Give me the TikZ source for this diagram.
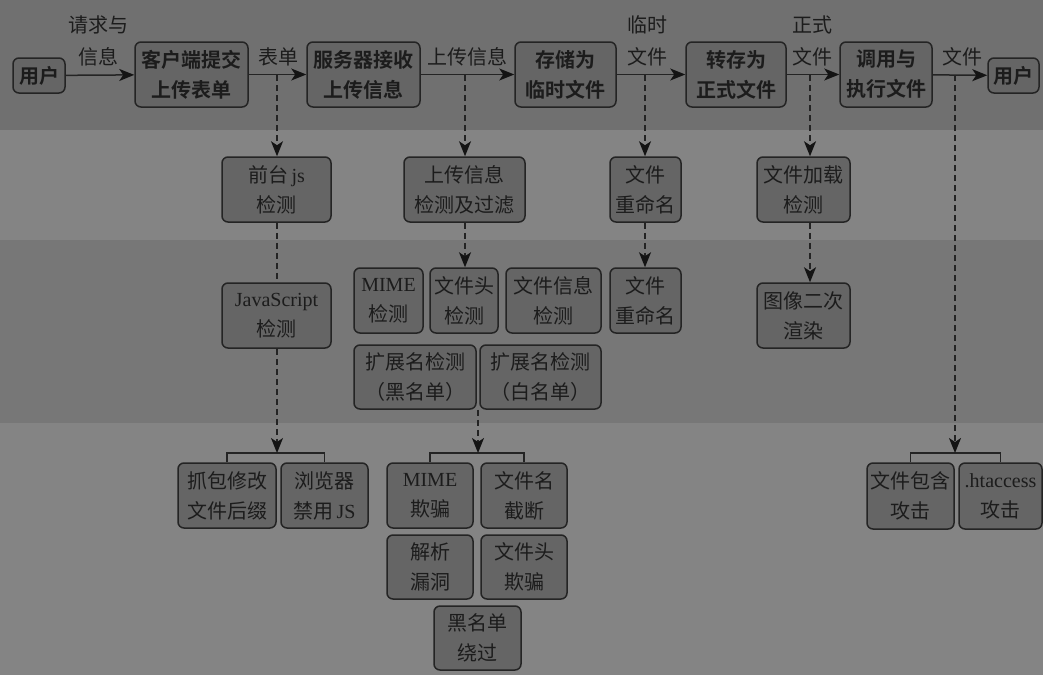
\documentclass[tikz,border=0pt]{standalone}
\usepackage{fontspec}
\setmainfont{Liberation Serif}
\newfontfamily\cjk{Noto Sans CJK SC}[BoldFont={Noto Sans CJK SC Bold}]
\newfontfamily\lat{Liberation Serif}
\usetikzlibrary{arrows.meta,calc}

\definecolor{bandA}{RGB}{112,112,112}
\definecolor{bandB}{RGB}{132,132,132}
\definecolor{bandC}{RGB}{119,119,119}
\definecolor{boxfill}{RGB}{101,101,101}
\definecolor{boxline}{RGB}{36,36,36}
\definecolor{ink}{RGB}{28,28,28}
\definecolor{tip}{RGB}{20,20,20}

\begin{document}
\begin{tikzpicture}[x=1pt,y=-1pt,
  box/.style={draw=boxline, fill=boxfill, line width=1.5pt, rounded corners=6pt,
    inner sep=0pt, align=center, text=ink, font=\cjk\fontsize{20}{30}\selectfont},
  mainbox/.style={box, font=\cjk\bfseries\fontsize{20}{30}\selectfont},
  lbl/.style={align=center, text=ink, inner sep=0pt, font=\cjk\fontsize{20}{32}\selectfont},
  tiphead/.style={-{Stealth[length=15pt,width=12pt,inset=4pt,color=tip]}},
  flow/.style={line width=1.5pt, draw=boxline, tiphead},
  probe/.style={line width=1.5pt, draw=boxline, dash pattern=on 6pt off 4pt},
  probearrow/.style={probe, tiphead},
  bracket/.style={line width=1.5pt, draw=boxline}]

\useasboundingbox (0,0) rectangle (1043,675);

% background bands
\fill[bandA] (0,0) rectangle (1043,130);
\fill[bandB] (0,130) rectangle (1043,240);
\fill[bandC] (0,240) rectangle (1043,423);
\fill[bandB] (0,423) rectangle (1043,675);

% main upload flow
\node[mainbox, minimum width=52pt, minimum height=35pt] (u1) at (39,75.5) {用户};
\node[mainbox, minimum width=113pt, minimum height=65pt] (n1) at (191.5,74.5) {客户端提交\\上传表单};
\node[mainbox, minimum width=113pt, minimum height=65pt] (n2) at (363.5,74.5) {服务器接收\\上传信息};
\node[mainbox, minimum width=101pt, minimum height=65pt] (n3) at (565.5,74.5) {存储为\\临时文件};
\node[mainbox, minimum width=100pt, minimum height=65pt] (n4) at (736,74.5) {转存为\\正式文件};
\node[mainbox, minimum width=92pt, minimum height=65pt] (n5) at (886,74.5) {调用与\\执行文件};
\node[mainbox, minimum width=51pt, minimum height=35pt] (u2) at (1013.5,75.5) {用户};

\draw[flow] (u1) -- (n1);
\draw[flow] (n1) -- (n2);
\draw[flow] (n2) -- (n3);
\draw[flow] (n3) -- (n4);
\draw[flow] (n4) -- (n5);
\draw[flow] (n5) -- (u2);

% flow labels
\node[lbl] (l1) at (98,41) {请求与\\信息};
\node[lbl] (l2) at (278,57) {表单};
\node[lbl] (l3) at (467,57) {上传信息};
\node[lbl] (l4) at (647,41) {临时\\文件};
\node[lbl] (l5) at (812,41) {正式\\文件};
\node[lbl] (l6) at (962,57) {文件};

% taps on the flow arrows
\coordinate (t1) at (277,75);
\coordinate (t2) at (465,75);
\coordinate (t3) at (645,75);
\coordinate (t4) at (810,75);
\coordinate (t5) at (955,75);

% checks
\node[box, minimum width=109pt, minimum height=65pt] (a1) at (276.5,189.5) {前台\,{\lat js}\\检测};
\node[box, minimum width=121pt, minimum height=65pt] (a2) at (464.5,189.5) {上传信息\\检测及过滤};
\node[box, minimum width=71pt, minimum height=65pt] (a3) at (645.5,189.5) {文件\\重命名};
\node[box, minimum width=93pt, minimum height=65pt] (a4) at (803.5,189.5) {文件加载\\检测};

\node[box, minimum width=109pt, minimum height=65pt] (b1) at (276.5,315.5) {{\lat JavaScript}\\检测};
\node[box, minimum width=69pt, minimum height=65pt] (b2) at (388.5,300.5) {{\lat MIME}\\检测};
\node[box, minimum width=68pt, minimum height=65pt] (b3) at (464,300.5) {文件头\\检测};
\node[box, minimum width=95pt, minimum height=65pt] (b4) at (553.5,300.5) {文件信息\\检测};
\node[box, minimum width=122pt, minimum height=64pt] (b5) at (415,377) {扩展名检测\\（黑名单）};
\node[box, minimum width=121pt, minimum height=64pt] (b6) at (540.5,377) {扩展名检测\\（白名单）};
\node[box, minimum width=71pt, minimum height=65pt] (b7) at (645.5,300.5) {文件\\重命名};
\node[box, minimum width=93pt, minimum height=65pt] (b8) at (803.5,315.5) {图像二次\\渲染};

% bypasses
\node[box, minimum width=98pt, minimum height=65pt] (c1) at (227,495.5) {抓包修改\\文件后缀};
\node[box, minimum width=87pt, minimum height=65pt] (c2) at (324.5,495.5) {浏览器\\禁用\,{\lat JS}};
\node[box, minimum width=86pt, minimum height=65pt] (c3) at (430,495.5) {{\lat MIME}\\欺骗};
\node[box, minimum width=86pt, minimum height=65pt] (c4) at (524,495.5) {文件名\\截断};
\node[box, minimum width=86pt, minimum height=64pt] (c5) at (430,567) {解析\\漏洞};
\node[box, minimum width=86pt, minimum height=64pt] (c6) at (524,567) {文件头\\欺骗};
\node[box, minimum width=87pt, minimum height=64pt] (c7) at (477.5,638) {黑名单\\绕过};
\node[box, minimum width=87pt, minimum height=66pt] (c8) at (910.5,496) {文件包含\\攻击};
\node[box, minimum width=83pt, minimum height=66pt] (c9) at (1000.5,496) {{\lat .htaccess}\\攻击};

% brackets over the bypass groups
\coordinate (k1) at (277,453);
\coordinate (k2) at (478,453);
\coordinate (k3) at (955,453);
\draw[bracket] (c1.north) -- (c1.north |- k1) -- (c2.north |- k1) -- (c2.north);
\draw[bracket] (c3.north) -- (c3.north |- k2) -- (c4.north |- k2) -- (c4.north);
\draw[bracket] (c8.north) -- (c8.north |- k3) -- (c9.north |- k3) -- (c9.north);

% dashed links
\draw[probearrow] (t1) -- (t1 |- a1.north);
\draw[probe] (t1 |- a1.south) -- (t1 |- b1.north);
\draw[probearrow] (t1 |- b1.south) -- (k1);

\draw[probearrow] (t2) -- (t2 |- a2.north);
\draw[probearrow] (t2 |- a2.south) -- (t2 |- b3.north);
\coordinate (m56) at ($(b5.south east)!0.5!(b6.south west)$);
\draw[probearrow] (m56) -- (m56 |- k2);

\draw[probearrow] (t3) -- (t3 |- a3.north);
\draw[probearrow] (t3 |- a3.south) -- (t3 |- b7.north);

\draw[probearrow] (t4) -- (t4 |- a4.north);
\draw[probearrow] (t4 |- a4.south) -- (t4 |- b8.north);

\draw[probearrow] (t5) -- (k3);
\end{tikzpicture}
\end{document}
